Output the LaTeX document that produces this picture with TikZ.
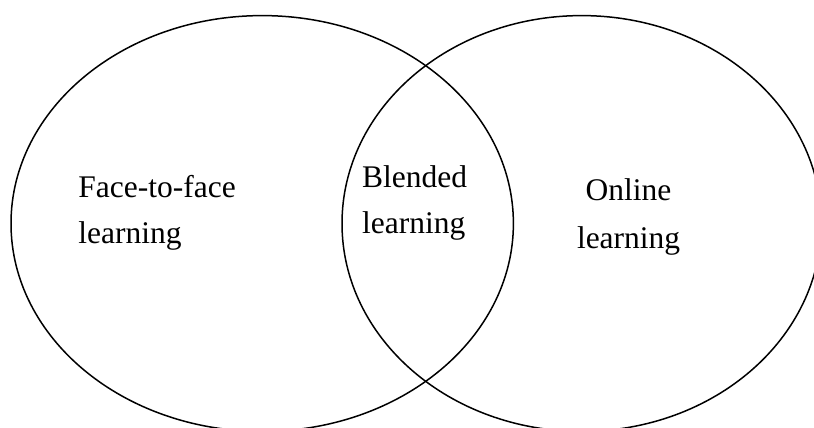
\documentclass[tikz,border=0pt]{standalone}
\usepackage{fontspec}
\setmainfont{Liberation Serif}
\usetikzlibrary{shapes.geometric, positioning}

\begin{document}
\begin{tikzpicture}[x=0.5pt, y=-0.5pt]
    \tikzstyle{venn} = [ellipse, draw=black, line width=0.75pt, inner sep=0pt, minimum height=207.9pt]
    \tikzstyle{label} = [inner sep=0pt, font=\fontsize{15.75}{23}\selectfont]

    \useasboundingbox (0,0) rectangle (814,428);
    \clip (0,0) rectangle (814,428);

    \node (face) [venn, minimum width=251.2pt] at (262.2,223.5) {};
    \node (online) [venn, minimum width=239.7pt] at (581.7,223.5) {};

    \node (facetext) [label, align=left, anchor=west] at (78,213) {Face-to-face\\learning};
    \node (blendtext) [label, align=left, anchor=west] at (361.7,203) {Blended\\learning};
    \node (onlinetext) [label, align=center, font=\fontsize{15.75}{24}\selectfont] at (628.6,216.7) {Online\\learning};
\end{tikzpicture}
\end{document}
